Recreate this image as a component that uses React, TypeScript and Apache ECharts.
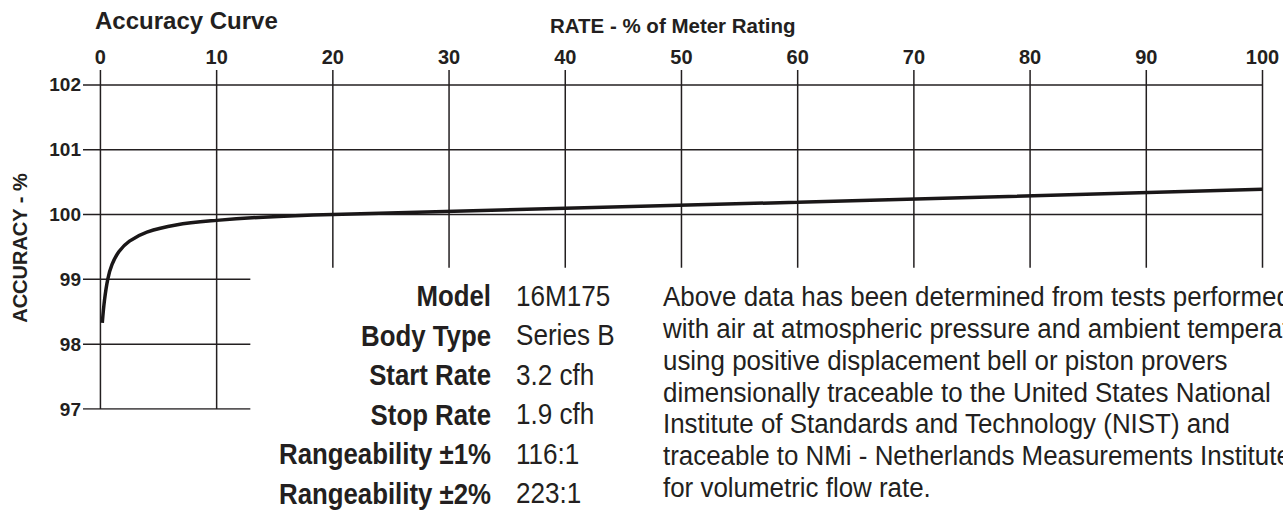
import React, { useEffect, useRef } from "react";
import * as echarts from "echarts";

// ---- data ----
const rateTicks = [0, 10, 20, 30, 40, 50, 60, 70, 80, 90, 100];
const accuracyTicks = [97, 98, 99, 100, 101, 102];
const curveRate = [0.16, 0.35, 0.63, 1.0, 1.6, 2.5, 4, 6.5, 10, 14, 20, 60, 100];
const curveAccuracy = [98.33, 98.68, 99.0, 99.23, 99.43, 99.59, 99.73, 99.84, 99.91, 99.96, 100.0, 100.19, 100.39];
const longGridRows = [100, 101, 102];
const shortGridRows = [97, 98, 99];
const fullGridCols = [0, 10];
const shortGridCols = [20, 30, 40, 50, 60, 70, 80, 90, 100];
const specLabels = ["Model", "Body Type", "Start Rate", "Stop Rate", "Rangeability \u00b11%", "Rangeability \u00b12%"];
const specValues = ["16M175", "Series B", "3.2 cfh", "1.9 cfh", "116:1", "223:1"];
const noteLines = [
  "Above data has been determined from tests performed",
  "with air at atmospheric pressure and ambient temperature",
  "using positive displacement bell or piston provers",
  "dimensionally traceable to the United States National",
  "Institute of Standards and Technology (NIST) and",
  "traceable to NMi - Netherlands Measurements Institute",
  "for volumetric flow rate.",
];

// ---- layout constants ----
const X_MIN = -1.5;
const X_MAX = 100;
const Y_MIN = 97;
const Y_MAX = 102.23;
const SHORT_ROW_END = 12.9;
const SHORT_COL_BOTTOM = 99.18;

const INK = "#231f20";
const HELV = "'Liberation Sans', Arial, Helvetica, sans-serif";

export default function App() {
  const ref = useRef<HTMLDivElement>(null);

  useEffect(() => {
    if (!ref.current) return;
    const chart = echarts.init(ref.current, null, { renderer: "svg" });

    const gridLineStyle = { color: INK, width: 1.5 };
    const gridSeries: any[] = [];
    const addLine = (a: number[], b: number[]) =>
      gridSeries.push({ type: "line", data: [a, b], symbol: "none", silent: true, lineStyle: gridLineStyle, z: 1 });
    longGridRows.forEach((y) => addLine([X_MIN, y], [X_MAX, y]));
    shortGridRows.forEach((y) => addLine([X_MIN, y], [SHORT_ROW_END, y]));
    fullGridCols.forEach((x) => addLine([x, Y_MIN], [x, Y_MAX]));
    shortGridCols.forEach((x) => addLine([x, SHORT_COL_BOTTOM], [x, Y_MAX]));

    const rowTop = 296;
    const rowStep = 39.5;
    const noteTop = 297;
    const noteStep = 31.8;

    const graphics: any[] = [
      {
        type: "text",
        left: 95,
        top: 8,
        style: { text: "Accuracy Curve", fill: INK, font: `bold 24px ${HELV}` },
      },
      {
        type: "text",
        x: 20,
        y: 248,
        rotation: Math.PI / 2,
        style: { text: "ACCURACY - %", fill: INK, font: `bold 20px ${HELV}`, align: "center", verticalAlign: "middle" },
      },
    ];
    specLabels.forEach((t, i) =>
      graphics.push({
        type: "text",
        x: 491,
        y: rowTop + i * rowStep,
        scaleX: 0.89,
        style: { text: t, fill: INK, font: `bold 29px ${HELV}`, align: "right", verticalAlign: "middle" },
      })
    );
    specValues.forEach((t, i) =>
      graphics.push({
        type: "text",
        x: 516,
        y: rowTop + i * rowStep,
        scaleX: 0.9,
        style: { text: t, fill: INK, font: `29px ${HELV}`, align: "left", verticalAlign: "middle" },
      })
    );
    noteLines.forEach((t, i) =>
      graphics.push({
        type: "text",
        x: 663,
        y: noteTop + i * noteStep,
        scaleX: 0.96,
        style: { text: t, fill: INK, font: `27px ${HELV}`, align: "left", verticalAlign: "middle" },
      })
    );

    chart.setOption({
      animation: false,
      grid: { left: 83, right: 20.5, top: 70, bottom: 122 },
      xAxis: {
        type: "value",
        position: "top",
        min: X_MIN,
        max: X_MAX,
        name: "RATE - % of Meter Rating",
        nameLocation: "middle",
        nameGap: 34,
        nameTextStyle: { color: INK, fontFamily: HELV, fontWeight: "bold", fontSize: 20.5 },
        axisLine: { show: false },
        axisTick: { show: false },
        splitLine: { show: false },
        axisLabel: {
          customValues: rateTicks,
          color: INK,
          fontFamily: HELV,
          fontWeight: "bold",
          fontSize: 20,
          margin: 3.5,
        },
      },
      yAxis: {
        type: "value",
        min: Y_MIN,
        max: Y_MAX,
        axisLine: { show: false },
        axisTick: { show: false },
        splitLine: { show: false },
        axisLabel: {
          customValues: accuracyTicks,
          color: INK,
          fontFamily: HELV,
          fontWeight: "bold",
          fontSize: 19,
          margin: 2,
        },
      },
      graphic: graphics,
      series: [
        ...gridSeries,
        {
          type: "line",
          name: "Accuracy",
          data: curveRate.map((r, i) => [r, curveAccuracy[i]]),
          symbol: "none",
          smooth: 0.35,
          lineStyle: { color: "#1a1718", width: 3.5 },
          z: 5,
        },
      ],
    });

    return () => chart.dispose();
  }, []);

  return <div ref={ref} style={{ position: "absolute", left: 0, top: 0, width: 1283, height: 531 }} />;
}
